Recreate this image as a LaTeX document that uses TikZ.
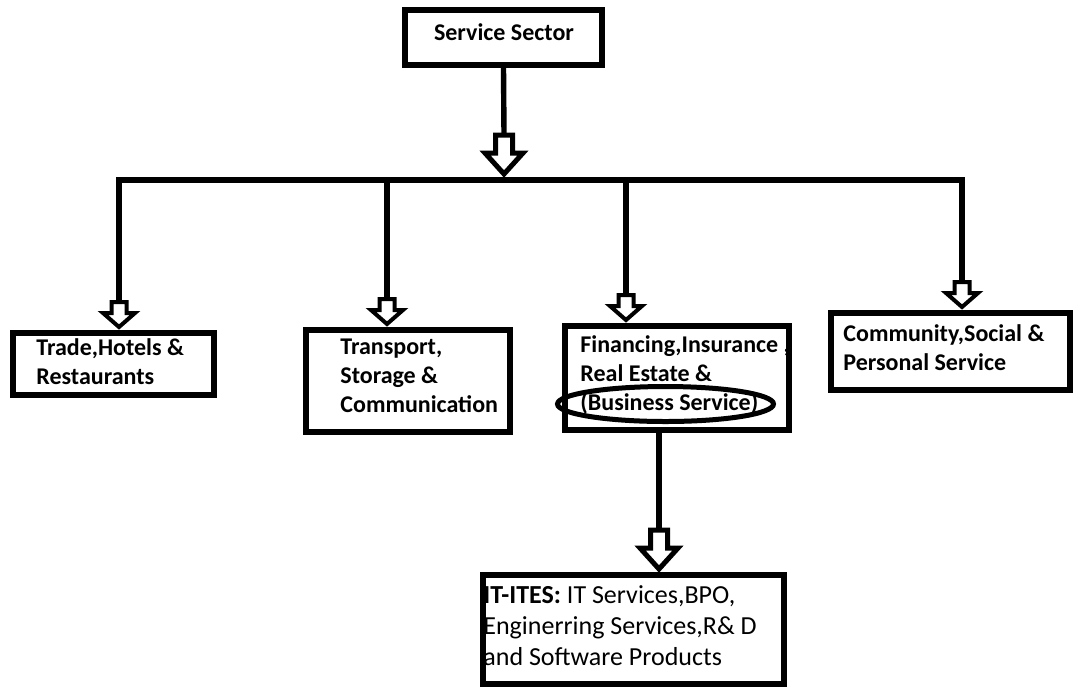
\documentclass[tikz,border=0pt]{standalone}
\usepackage{fontspec}
\setmainfont{Carlito}

\tikzset{
    box/.style={draw, line width=3pt, inner sep=0pt},
    txt/.style={align=left, anchor=west, inner sep=0pt, font=\bfseries\fontsize{12}{14.5}\selectfont},
    conn/.style={line width=2.7pt},
    hollow/.style={line width=2pt, fill=white},
    bighollow/.style={line width=2.5pt, fill=white},
    pics/smallarrow/.style={code={
        \draw[hollow] (-7.5,-28) -- (7.5,-28) -- (7.5,-17) -- (16,-17) -- (0,-3) -- (-16,-17) -- (-7.5,-17) -- cycle;
        \coordinate (-top) at (0,-28);
    }},
    pics/bigarrow/.style={code={
        \draw[bighollow] (-8.5,-42) -- (8.5,-42) -- (8.5,-24) -- (19,-24) -- (0,-3) -- (-19,-24) -- (-8.5,-24) -- cycle;
        \coordinate (-top) at (0,-42);
    }}
}

\begin{document}
\begin{tikzpicture}[x=0.5pt, y=-0.5pt]
    \useasboundingbox (0,0) rectangle (1075,687);

    % boxes
    \node[box, minimum width=98.5pt, minimum height=27.5pt] (service) at (503.5,37.5) {};
    \node[box, minimum width=100.5pt, minimum height=31pt] (trade) at (113.5,364) {};
    \node[box, minimum width=102pt, minimum height=51pt] (transport) at (408,381) {};
    \node[box, minimum width=112pt, minimum height=52pt] (finance) at (677,378) {};
    \node[box, minimum width=119.5pt, minimum height=38.5pt] (community) at (950.5,351.5) {};
    \node[box, minimum width=150.5pt, minimum height=54.5pt] (itites) at (633.5,629.5) {};

    % texts
    \node[txt, anchor=center] (serviceT) at (504,32) {Service Sector};
    \node[txt] (tradeT) at (36,362) {Trade,Hotels \&\\Restaurants};
    \node[txt] (transportT) at (340,375.5) {Transport,\\Storage \&\\Communication};
    \node[txt] (financeT) at (580,374.5) {Financing,Insurance ,\\Real Estate \&\\(Business Service)};
    \node[txt] (communityT) at (843,347.5) {Community,Social \&\\Personal Service};
    \node[txt, font=\fontsize{13}{15.5}\selectfont] (ititesT) at (483,626) {\textbf{IT-ITES:} IT Services,BPO,\\Enginerring Services,R\& D\\and Software Products};
    \draw[line width=2.5pt] (665.5,404) ellipse [x radius=108, y radius=17.5];

    % hollow arrows
    \pic (mainA) at (504,177) {bigarrow};
    \pic (trA) at (119,330) {smallarrow};
    \pic (tsA) at (387,327) {smallarrow};
    \pic (fnA) at (626,323) {smallarrow};
    \pic (cmA) at (962,310) {smallarrow};
    \pic (itA) at (659,572) {bigarrow};

    % connectors
    \coordinate (hub) at (504,180);
    \draw[conn] (service.south) -- (mainA-top);
    \draw[conn] (trA-top) -- (trA-top |- hub) -- (cmA-top |- hub) -- (cmA-top);
    \draw[conn] (tsA-top) -- (tsA-top |- hub);
    \draw[conn] (fnA-top) -- (fnA-top |- hub);
    \draw[conn] (finance.south -| itA-top) -- (itA-top);
\end{tikzpicture}
\end{document}
